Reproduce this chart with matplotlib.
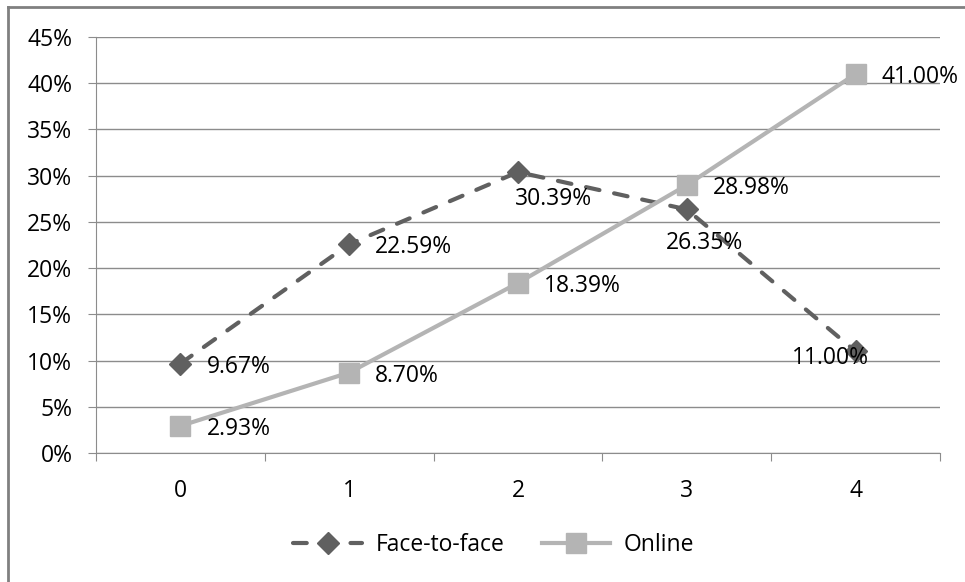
import matplotlib.pyplot as plt
from matplotlib.lines import Line2D
from matplotlib.ticker import MultipleLocator, FuncFormatter

# Datos del grafico
categorias = [0, 1, 2, 3, 4]
presencial = [9.67, 22.59, 30.39, 26.35, 11.00]
online = [2.93, 8.70, 18.39, 28.98, 41.00]

# desplazamiento (px) de cada etiqueta respecto al marcador
desp_presencial = [(26, -3), (26, -3), (-3, -27), (-21, -34), (-64, -7)]
desp_online = [(26, -3), (26, -3), (26, -3), (26, -3), (26, -3)]

plt.rcParams['font.family'] = ['Open Sans', 'DejaVu Sans']
fs = 16.5

fig = plt.figure(figsize=(9.65, 5.82), dpi=100)
ax = fig.add_axes([96 / 965, 1 - 453 / 582, 844 / 965, 416 / 582])

c_pres = '#606060'
c_onl = '#b4b4b4'

ax.plot(categorias, presencial, color=c_pres, lw=3, ls=(0, (3.3, 3.6)),
        dash_capstyle='round', marker='D', ms=11, mfc=c_pres, mec=c_pres,
        label='Face-to-face', zorder=3)
ax.plot(categorias, online, color=c_onl, lw=3, ls='-',
        marker='s', ms=14, mfc=c_onl, mec=c_onl, label='Online', zorder=3)

for x, y, d in zip(categorias, presencial, desp_presencial):
    ax.annotate(f"{y:.2f}%", (x, y), xytext=d, textcoords='offset pixels',
                ha='left', va='center', fontsize=fs, color='black', zorder=4)
for x, y, d in zip(categorias, online, desp_online):
    ax.annotate(f"{y:.2f}%", (x, y), xytext=d, textcoords='offset pixels',
                ha='left', va='center', fontsize=fs, color='black', zorder=4)

ax.set_ylim(0, 45)
ax.set_xlim(-0.5, 4.5)
ax.yaxis.set_major_locator(MultipleLocator(5))
ax.yaxis.set_major_formatter(FuncFormatter(lambda v, p: f"{v:.0f}%"))
ax.grid(axis='y', color='#8c8c8c', lw=1)
ax.set_axisbelow(True)

ax.set_xticks([-0.5, 0.5, 1.5, 2.5, 3.5, 4.5])
ax.set_xticklabels([])
ax.set_xticks(categorias, minor=True)
ax.set_xticklabels([str(c) for c in categorias], minor=True)
ax.tick_params(axis='x', which='major', length=6, color='#8c8c8c')
ax.tick_params(axis='x', which='minor', length=0, pad=19, labelsize=fs)
ax.tick_params(axis='y', length=6, color='#8c8c8c', pad=11, labelsize=fs)

for s in ['top', 'right']:
    ax.spines[s].set_visible(False)
for s in ['left', 'bottom']:
    ax.spines[s].set_color('#8c8c8c')

ax.legend(loc='center', bbox_to_anchor=(494 / 965, 1 - 545 / 582),
          bbox_transform=fig.transFigure, ncol=2, frameon=False,
          fontsize=fs, handlelength=3.0, handletextpad=0.6, columnspacing=1.6)

# marco exterior
fig.add_artist(Line2D([8 / 965, 8 / 965], [0, 1 - 7 / 582], color='#808080', lw=2))
fig.add_artist(Line2D([8 / 965, 1], [1 - 7 / 582, 1 - 7 / 582], color='#808080', lw=2))

fig.savefig('out.png', dpi=100)
